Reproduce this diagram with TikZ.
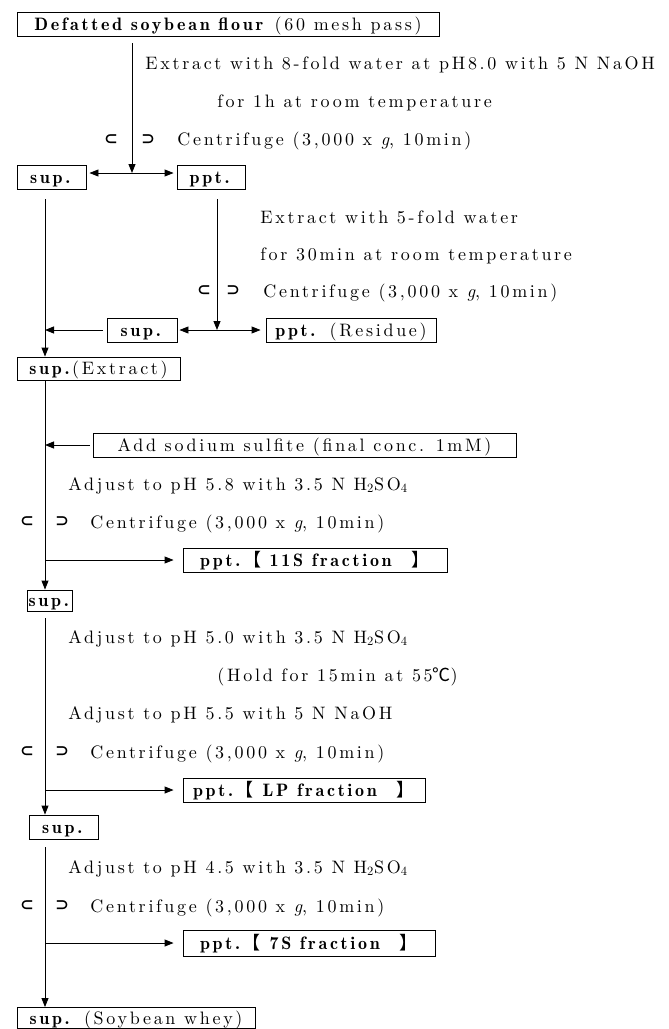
\documentclass[tikz,border=0pt]{standalone}
\usepackage{fontspec}
\setmainfont{lmroman10-regular.otf}[BoldFont=lmromandemi10-regular.otf, ItalicFont=lmroman10-italic.otf, LetterSpace=15]
\newfontfamily\cjk{Noto Sans CJK JP}
\usetikzlibrary{arrows.meta}
\newcommand\fsz{\fontsize{18}{21}\selectfont}
\newcommand\lbr{{\cjk 【}}
\newcommand\rbr{{\cjk 】}}
\begin{document}
\begin{tikzpicture}[x=1pt,y=-1pt,line width=0.9pt,
  box/.style={draw,inner sep=1pt,font=\fsz,text height=12.5pt,text depth=0pt},
  lbl/.style={anchor=base west,inner sep=0pt,font=\fsz},
  sym/.style={inner sep=0pt,font=\fontsize{14}{14}\selectfont\cjk\bfseries},
  arr/.style={-{Triangle[length=9pt,width=7pt]}},
  darr/.style={{Triangle[length=9pt,width=7pt]}-{Triangle[length=9pt,width=7pt]}}]
\useasboundingbox (0,0) rectangle (669,1029);
% boxes
\node[box,minimum width=422pt,minimum height=24pt] (flour) at (228,24) {\textbf{Defatted soybean flour} (60 mesh pass)};
\node[box,minimum width=69pt,minimum height=24pt] (sup1) at (51.5,177) {\textbf{sup.}};
\node[box,minimum width=68pt,minimum height=24pt] (ppt1) at (211,177) {\textbf{ppt.}};
\node[box,minimum width=70pt,minimum height=24pt] (sup2) at (142,330) {\textbf{sup.}};
\node[box,minimum width=170pt,minimum height=24pt] (ppt2) at (351,330) {\textbf{ppt.} (Residue)};
\node[box,minimum width=163pt,minimum height=23pt] (supE) at (98.5,368.5) {\textbf{sup.}(Extract)};
\node[box,minimum width=423pt,minimum height=24pt] (add) at (304.5,445) {Add sodium sulfite (final conc. 1mM)};
\node[box,minimum width=264pt,minimum height=24pt] (f11) at (315,560) {\textbf{ppt.}\lbr\ \textbf{11S fraction}\ \ \rbr};
\node[box,minimum width=44pt,minimum height=21pt] (sup3) at (50,600.5) {\textbf{sup.}};
\node[box,minimum width=242pt,minimum height=24pt] (fLP) at (304,790) {\textbf{ppt.}\lbr\ \textbf{LP fraction}\ \ \rbr};
\node[box,minimum width=69pt,minimum height=24pt] (sup4) at (63.5,827) {\textbf{sup.}};
\node[box,minimum width=252pt,minimum height=26pt] (f7) at (309,943) {\textbf{ppt.}\lbr\ \textbf{7S fraction}\ \ \rbr};
\node[box,minimum width=238pt,minimum height=21pt] (final) at (136,1018) {\textbf{sup.} (Soybean whey)};
% texts (baseline positions)
\node[lbl] (t1) at (145,69) {Extract with 8-fold water at pH8.0 with 5 N NaOH};
\node[lbl] (t2) at (217,107) {for 1h at room temperature};
\node[lbl] (c1) at (177,145) {Centrifuge (3,000 x \textit{g}, 10min)};
\node[lbl] (t3) at (260,223) {Extract with 5-fold water};
\node[lbl] (t4) at (260,260) {for 30min at room temperature};
\node[lbl] (c2) at (263,297) {Centrifuge (3,000 x \textit{g}, 10min)};
\node[lbl] (t5) at (68,490) {Adjust to pH 5.8 with 3.5 N H\textsubscript{2}SO\textsubscript{4}};
\node[lbl] (c3) at (90,528) {Centrifuge (3,000 x \textit{g}, 10min)};
\node[lbl] (t6) at (68,643) {Adjust to pH 5.0 with 3.5 N H\textsubscript{2}SO\textsubscript{4}};
\node[lbl] (t7) at (217,681) {(Hold for 15min at 55{\cjk ℃})};
\node[lbl] (t8) at (68,719) {Adjust to pH 5.5 with 5 N NaOH};
\node[lbl] (c4) at (90,758) {Centrifuge (3,000 x \textit{g}, 10min)};
\node[lbl] (t9) at (68,873) {Adjust to pH 4.5 with 3.5 N H\textsubscript{2}SO\textsubscript{4}};
\node[lbl] (c5) at (90,912) {Centrifuge (3,000 x \textit{g}, 10min)};
% symbols
\node[sym] (a1) at (111,140) {⊂}; \node[sym] (b1) at (148,140) {⊃};
\node[sym] (a2) at (204,291) {⊂}; \node[sym] (b2) at (233,291) {⊃};
\node[sym] (a3) at (27,522) {⊂}; \node[sym] (b3) at (62,522) {⊃};
\node[sym] (a4) at (27,752) {⊂}; \node[sym] (b4) at (62,752) {⊃};
\node[sym] (a5) at (27,906) {⊂}; \node[sym] (b5) at (62,906) {⊃};
% connectors
\coordinate (j1) at (132,173);
\draw[arr,shorten <=7pt] (flour.south -| j1) -- (j1);
\draw[darr,shorten <=3pt,shorten >=3pt] (j1 -| sup1.east) -- (j1 -| ppt1.west);
\coordinate (L1) at (45,199);
\draw[arr] (L1) -- (L1 |- supE.north);
\coordinate (R1) at (217,199);
\coordinate (j2) at (217,330);
\draw[arr] (R1) -- (j2);
\draw[darr,shorten <=2pt,shorten >=5pt] (j2 -| sup2.east) -- (j2 -| ppt2.west);
\draw[arr,shorten <=4pt] (sup2.west) -- (sup2.west -| L1);
\draw[arr] (supE.south -| L1) -- (sup3.north -| L1);
\draw[arr,shorten <=3pt] (add.west) -- (add.west -| L1);
\draw[arr,shorten >=9pt] (f11.west -| L1) -- (f11.west);
\coordinate (L3) at (45,618);
\draw[arr] (L3) -- (L3 |- sup4.north);
\draw[arr,shorten >=9pt] (fLP.west -| L1) -- (fLP.west);
\coordinate (L4) at (45,847);
\draw[arr] (L4) -- (L4 |- final.north);
\draw[arr,shorten >=9pt] (f7.west -| L1) -- (f7.west);
\end{tikzpicture}
\end{document}
